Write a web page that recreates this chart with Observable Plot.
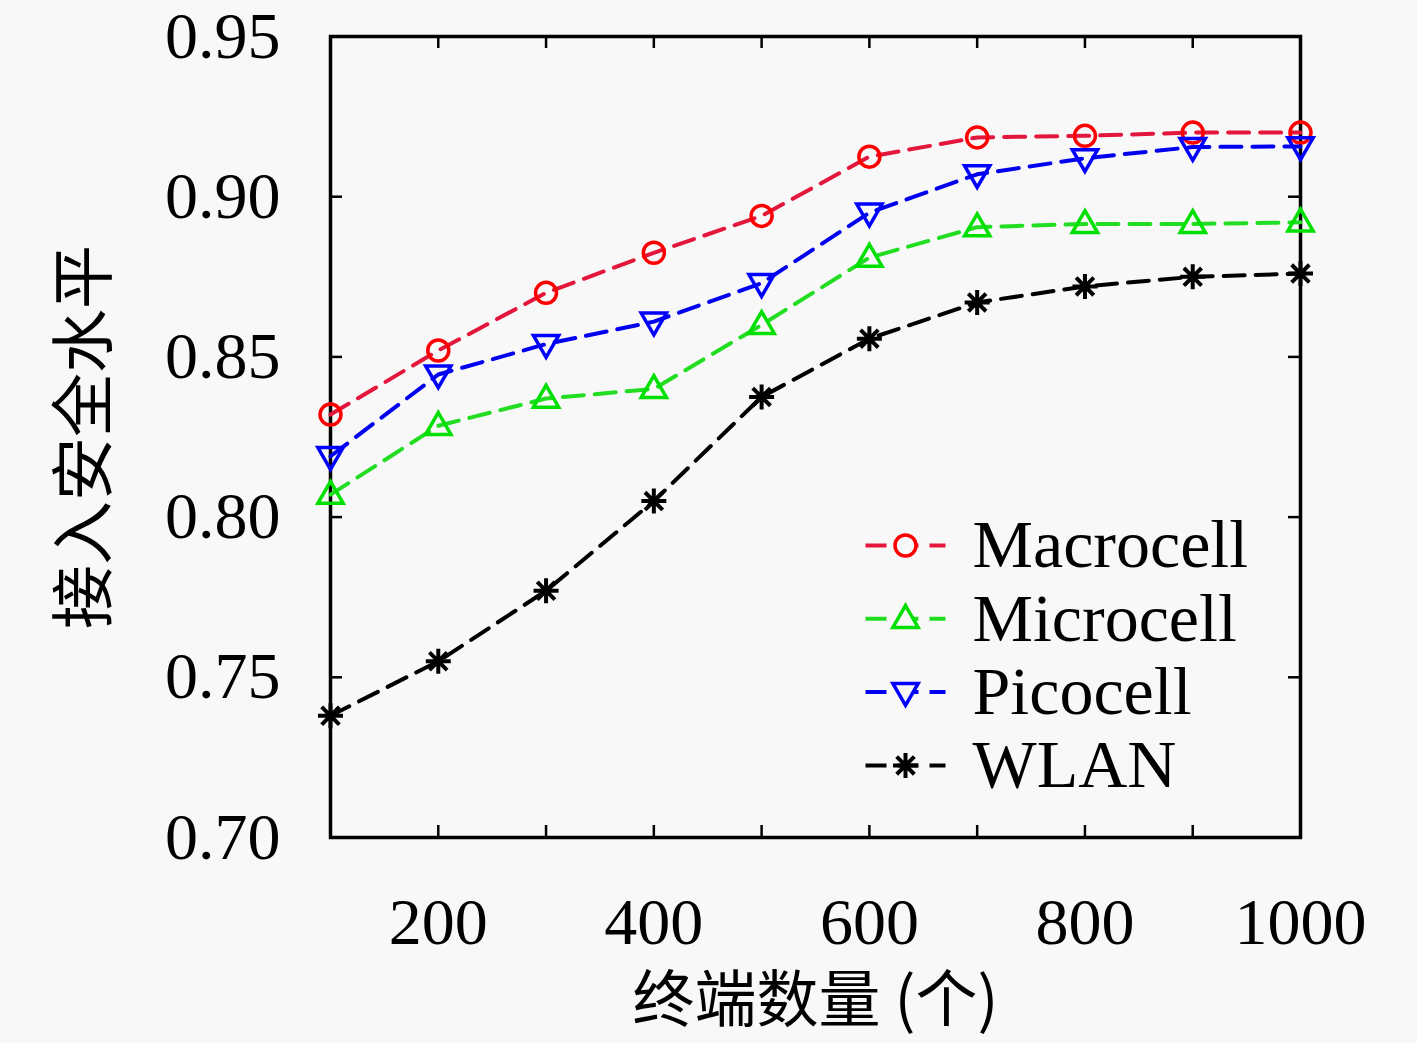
<!DOCTYPE html>
<html>
<head>
<meta charset="utf-8">
<script src="https://cdn.jsdelivr.net/npm/d3@7"></script>
<script src="https://cdn.jsdelivr.net/npm/@observablehq/plot@0.6"></script>
<style>
  html, body { margin: 0; padding: 0; background: #f8f8f8; }
  #chart svg { display: block; background: #f8f8f8; }
</style>
</head>
<body>
<div id="chart"></div>
<script>
// ---- data ----
const terminals = [100, 200, 300, 400, 500, 600, 700, 800, 900, 1000];
const macrocell = [0.832, 0.852, 0.870, 0.8825, 0.894, 0.9125, 0.9185, 0.919, 0.920, 0.920];
const microcell = [0.807, 0.8285, 0.837, 0.840, 0.860, 0.881, 0.8905, 0.8915, 0.8915, 0.892];
const picocell  = [0.819, 0.8445, 0.854, 0.861, 0.873, 0.895, 0.907, 0.912, 0.9155, 0.9157];
const wlan      = [0.738, 0.755, 0.777, 0.805, 0.8375, 0.8557, 0.867, 0.872, 0.875, 0.876];
const seriesNames = ["Macrocell", "Microcell", "Picocell", "WLAN"];
const xTickLabels = [200, 400, 600, 800, 1000];
const xMinorTicks = [200, 300, 400, 500, 600, 700, 800, 900];
const yTickLabels = [0.70, 0.75, 0.80, 0.85, 0.90, 0.95];
const xTitle = "终端数量 (个)";
const yTitle = "接入安全水平";

// ---- styles ----
const colors = {Macrocell: "#ff0000", Microcell: "#00e000", Picocell: "#0000ff", WLAN: "#000000"};
const lineColors = {Macrocell: "#e3163c", Microcell: "#22dd22", Picocell: "#0000ee", WLAN: "#000000"};
const serif = "'Liberation Serif', 'DejaVu Serif', serif";
const cjk = "'Noto Sans CJK SC', sans-serif";

// custom symbols
const triUp = {draw(ctx, size) {
  const r = Math.sqrt(size / Math.PI);
  ctx.moveTo(0, -r * 1.15); ctx.lineTo(r * 1.1, r * 0.75); ctx.lineTo(-r * 1.1, r * 0.75); ctx.closePath();
}};
const triDown = {draw(ctx, size) {
  const r = Math.sqrt(size / Math.PI);
  ctx.moveTo(0, r * 1.15); ctx.lineTo(r * 1.1, -r * 0.75); ctx.lineTo(-r * 1.1, -r * 0.75); ctx.closePath();
}};
const star = {draw(ctx, size) {
  const r = Math.sqrt(size / Math.PI);
  const d = r * Math.SQRT1_2;
  ctx.moveTo(-r, 0); ctx.lineTo(r, 0);
  ctx.moveTo(0, -r); ctx.lineTo(0, r);
  ctx.moveTo(-d, -d); ctx.lineTo(d, d);
  ctx.moveTo(-d, d); ctx.lineTo(d, -d);
}};
const hline = {draw(ctx, size) { ctx.moveTo(-40, 0); ctx.lineTo(40, 0); }};
const symbols = {Macrocell: "circle", Microcell: triUp, Picocell: triDown, WLAN: star};
const symR = {Macrocell: 10.5, Microcell: 11.5, Picocell: 11.5, WLAN: 12.5};

const valuesBy = {Macrocell: macrocell, Microcell: microcell, Picocell: picocell, WLAN: wlan};
const rows = seriesNames.flatMap(s => terminals.map((t, i) => ({series: s, x: t, y: valuesBy[s][i]})));

const W = 1417, H = 1043;
const mL = 330, mR = 117, mT = 36, mB = 206;
const fw = W - mL - mR, fh = H - mT - mB;

const marks = [
  Plot.frame({stroke: "black", strokeWidth: 3.5}),
  Plot.tickX(xMinorTicks, {x: d => d, insetTop: fh - 12, stroke: "black", strokeWidth: 2.5}),
  Plot.tickX(xMinorTicks, {x: d => d, insetBottom: fh - 12, stroke: "black", strokeWidth: 2.5}),
  Plot.tickY(yTickLabels, {y: d => d, insetRight: fw - 12, stroke: "black", strokeWidth: 2.5}),
  Plot.tickY(yTickLabels, {y: d => d, insetLeft: fw - 12, stroke: "black", strokeWidth: 2.5}),
  Plot.axisX(xTickLabels, {tickSize: 0, tickPadding: 60, fontSize: 66, fontFamily: serif, fill: "black", label: null, tickFormat: d => String(d)}),
  Plot.axisY(yTickLabels, {tickSize: 0, tickPadding: 50, fontSize: 66, fontFamily: serif, fill: "black", label: null, tickFormat: d => d.toFixed(2)}),
  Plot.text([yTitle], {text: d => d, frameAnchor: "left", dx: -245, rotate: -90, textAnchor: "middle", fontSize: 64, fontFamily: cjk, fill: "black"}),
  Plot.text([xTitle], {text: d => d, frameAnchor: "bottom", dy: 165, textAnchor: "middle", lineAnchor: "middle", fontSize: 62, fontFamily: cjk, fill: "black"})
];

for (const s of seriesNames) {
  const data = rows.filter(d => d.series === s);
  marks.push(Plot.line(data, {x: "x", y: "y", stroke: lineColors[s], strokeWidth: 4, strokeDasharray: "21,11"}));
  marks.push(Plot.dot(data, {x: "x", y: "y", symbol: symbols[s], r: symR[s], stroke: colors[s], strokeWidth: s === "WLAN" ? 4 : 3.5, fill: "none"}));
}

// legend
seriesNames.forEach((s, i) => {
  const dy = 509 + i * 73.3;
  marks.push(Plot.dot([s], {frameAnchor: "top-left", dx: 575, dy, symbol: hline, stroke: lineColors[s], strokeWidth: 4, strokeDasharray: "21,11", r: 5}));
  marks.push(Plot.dot([s], {frameAnchor: "top-left", dx: 575, dy, symbol: symbols[s], r: symR[s], stroke: colors[s], strokeWidth: s === "WLAN" ? 4 : 3.5, fill: "#f8f8f8"}));
  marks.push(Plot.text([s], {frameAnchor: "top-left", dx: 642, dy, text: d => d, textAnchor: "start", lineAnchor: "middle", fontSize: 68, fontFamily: serif, fill: "black"}));
});

const chart = Plot.plot({
  width: W, height: H,
  marginLeft: mL, marginRight: mR, marginTop: mT, marginBottom: mB,
  x: {domain: [100, 1000], axis: null},
  y: {domain: [0.70, 0.95], axis: null},
  style: {background: "#f8f8f8", overflow: "visible"},
  marks
});
document.getElementById("chart").appendChild(chart);
</script>
</body>
</html>
